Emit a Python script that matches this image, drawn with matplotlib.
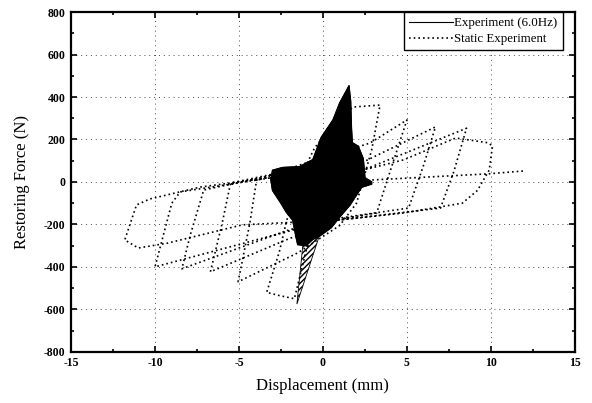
import matplotlib.pyplot as plt
from matplotlib.ticker import MultipleLocator

plt.rcParams['font.family'] = ['Liberation Serif', 'DejaVu Serif']
plt.rcParams['axes.unicode_minus'] = False

# static test: loops of growing amplitude (mm, N)
static_x = [0.0, -1.7, -2.6, -3.35, -2.6, -2.2, -1.6, -0.5, 0.8, 1.8, 3.4,
            2.9, 2.0, 1.0, -1.5, -5.05, -4.35, -3.95, -1.0, 2.8, 5.0,
            4.0, 3.2, 1.0, -2.2, -6.7, -6.0, -5.5, -2.5, 2.4, 6.7,
            6.0, 5.1, 1.0, -2.0, -8.4, -7.9, -7.1, -3.1, 2.4, 8.55,
            7.8, 7.0, 1.0, -0.2, -10.0, -9.0, -8.5, -3.15, 2.6, 4.8, 7.9, 9.8, 10.1,
            9.9, 9.2, 8.3, 4.8, 1.0, -4.8, -9.3, -11.0, -11.8, -11.1, -10.3,
            -7.3, -3.3, 2.6, 9.8, 12.0]
static_y = [0, -550, -535, -520, -330, -195, -20, 160, 290, 353, 362,
            150, -100, -205, -334, -470, -193, 9, 90, 183, 292,
            50, -146, -175, -273, -423, -194, -5, 45, 94, 259,
            80, -123, -170, -225, -409, -250, -38, 30, 56, 253,
            50, -123, -179, -193, -400, -100, -47, 19, 60, 104, 207, 185, 170,
            56, -40, -100, -146, -179, -202, -289, -311, -273, -108, -80,
            -24, 19, 8, 38, 52]

# 6.0 Hz test: envelope of the dense loop bundle
dyn_x = [1.55, 1.65, 1.7, 1.75, 2.1, 2.4, 2.5, 2.9, 2.9, 2.3, 1.6, 1.0, 0.5,
         -0.2, -0.6, -1.0, -1.5, -1.6, -1.8, -2.2, -2.5, -3.0, -3.1, -3.0,
         -2.4, -1.4, -0.6, -0.1, 0.6, 1.0, 1.55]
dyn_y = [452, 380, 250, 185, 168, 110, 20, 0, -10, -25, -110, -165, -215,
         -255, -270, -300, -295, -260, -180, -140, -100, -40, 10, 55,
         68, 72, 105, 210, 292, 372, 452]

# narrow stiff tail below the bundle
tail_x = [-0.2, -1.55, -1.2]
tail_y = [-250, -575, -300]

fig = plt.figure(figsize=(5.92, 4.03), dpi=100)
ax = fig.add_axes([0.12, 0.127, 0.851, 0.843])

ax.plot(dyn_x, dyn_y, color='black', linewidth=0.8, label='Experiment (6.0Hz)', zorder=3)
ax.fill(dyn_x, dyn_y, color='black', zorder=3)
ax.fill(tail_x, tail_y, facecolor='none', edgecolor='black', hatch='//////',
        linewidth=0.6, zorder=3)
ax.plot(static_x, static_y, color='black', linestyle=(0, (1, 1.8)), linewidth=1.2,
        label='Static Experiment', zorder=4)

ax.set_xlim(-15, 15)
ax.set_ylim(-800, 800)
ax.xaxis.set_major_locator(MultipleLocator(5))
ax.xaxis.set_minor_locator(MultipleLocator(2.5))
ax.yaxis.set_major_locator(MultipleLocator(200))
ax.yaxis.set_minor_locator(MultipleLocator(100))
ax.tick_params(which='both', direction='in', top=True, right=True, width=1.2)
ax.tick_params(which='major', length=4, labelsize=8.5, pad=4)
ax.tick_params(which='minor', length=2.5)
for lab in ax.get_xticklabels() + ax.get_yticklabels():
    lab.set_fontweight('bold')
for s in ax.spines.values():
    s.set_linewidth(1.6)

ax.grid(True, which='major', color='black', linestyle=(0, (1, 4)), linewidth=0.7, alpha=0.7)

ax.set_xlabel('Displacement (mm)', fontsize=12, labelpad=6)
ax.set_ylabel('Restoring Force (N)', fontsize=12, labelpad=10)

leg = ax.legend(loc='upper right', bbox_to_anchor=(0.976, 1.0), borderaxespad=0,
                fontsize=9.3, frameon=True, fancybox=False, edgecolor='black',
                framealpha=1, handlelength=3.4, handletextpad=0.1,
                borderpad=0.4, labelspacing=0.3)
leg.get_frame().set_linewidth(1.0)

fig.savefig('out.png', dpi=100)
